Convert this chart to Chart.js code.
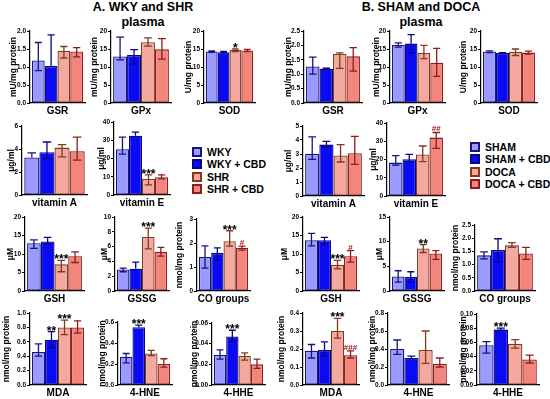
<!DOCTYPE html>
<html>
<head>
<meta charset="utf-8">
<script src="https://cdn.jsdelivr.net/npm/chart.js@4.4.0/dist/chart.umd.min.js"></script>
<style>
body { margin:0; background:#fff; width:550px; height:399px; position:relative; overflow:hidden;
       font-family:'Liberation Sans', Arial, sans-serif; color:#000; }
canvas { position:absolute; }
.title { position:absolute; width:200px; font-weight:bold; font-size:12.5px; line-height:15px; text-align:center; }
.leg { position:absolute; font-weight:bold; font-size:10.5px; white-space:nowrap; }
.leg div { height:12.3px; line-height:12.3px; }
.leg span { display:inline-block; width:6px; height:6px; border:2px solid; margin-right:5px; vertical-align:-1px; }
</style>
</head>
<body>
<div class="title" style="left:43px;top:0px">A. WKY and SHR<br>plasma</div>
<div class="title" style="left:321px;top:0px">B. SHAM and DOCA<br>plasma</div>
<div class="leg" id="legA" style="left:192px;top:146px"></div>
<div class="leg" id="legB" style="left:470px;top:141px"></div>
<script>
// groups and markers
var groupsA = ['WKY', 'WKY + CBD', 'SHR', 'SHR + CBD'];
var groupsB = ['SHAM', 'SHAM + CBD', 'DOCA', 'DOCA + CBD'];
var markers = ['GSR', 'GPx', 'SOD', 'vitamin A', 'vitamin E', 'GSH', 'GSSG', 'CO groups', 'MDA', '4-HNE', '4-HHE'];
var units = ['mU/mg protein', 'mU/mg protein', 'U/mg protein', 'μg/ml', 'μg/ml', 'μM', 'μM',
             'nmol/mg protein', 'nmol/mg protein', 'nmol/mg protein', 'pmol/mg protein'];

// y axis ticks (max, step)
var aYMax  = [2, 20, 20, 6, 40, 20, 10, 3, 1, 0.6, 0.06];
var aYStep = [0.5, 5, 5, 2, 10, 5, 2, 1, 0.2, 0.2, 0.02];
var bYMax  = [2.5, 20, 20, 5, 40, 20, 15, 2.5, 0.4, 0.8, 0.10];
var bYStep = [0.5, 5, 5, 1, 10, 5, 5, 0.5, 0.1, 0.2, 0.02];

// A. WKY and SHR plasma: means, error bar [low, high], significance marks
var aGSR = [1.18, 1.03, 1.45, 1.43];
var aGSRErr = [[0.90, 1.68], [1.03, 1.89], [1.25, 1.57], [1.28, 1.54]];
var aGPx = [12.9, 13.3, 16.9, 14.9];
var aGPxErr = [[12.0, 18.3], [10.8, 14.8], [15.8, 18.1], [12.2, 17.9]];
var aSOD = [14.3, 14.1, 14.7, 14.6];
var aSODErr = [[14.1, 14.5], [13.9, 14.3], [14.3, 15.0], [14.3, 14.9]];
var aVitA = [3.26, 3.72, 4.12, 3.80];
var aVitAErr = [[3.26, 3.66], [3.17, 4.61], [3.31, 4.38], [3.03, 5.04]];
var aVitE = [25.1, 32.5, 8.8, 9.7];
var aVitEErr = [[22.4, 31.7], [32.5, 34.5], [5.5, 11.0], [8.8, 11.0]];
var aGSH = [12.9, 13.4, 7.2, 9.4];
var aGSHErr = [[11.5, 13.8], [12.8, 14.5], [5.2, 8.3], [7.7, 10.6]];
var aGSSG = [2.9, 3.0, 7.3, 5.3];
var aGSSGErr = [[2.6, 3.1], [3.0, 3.9], [5.7, 8.5], [4.7, 5.9]];
var aCO = [1.42, 1.59, 2.07, 1.80];
var aCOErr = [[0.95, 1.88], [1.28, 1.80], [1.87, 2.51], [1.70, 1.87]];
var aMDA = [0.46, 0.63, 0.80, 0.80];
var aMDAErr = [[0.40, 0.57], [0.52, 0.74], [0.70, 0.90], [0.72, 0.89]];
var aHNE = [0.27, 0.55, 0.30, 0.20];
var aHNEErr = [[0.21, 0.30], [0.55, 0.57], [0.28, 0.33], [0.17, 0.25]];
var aHHE = [0.029, 0.047, 0.028, 0.020];
var aHHEErr = [[0.025, 0.034], [0.042, 0.053], [0.024, 0.031], [0.016, 0.025]];
var aSig = [[], [], ['', '', '*'], [], ['', '', '***'], ['', '', '***'], ['', '', '***'],
            ['', '', '***', '#'], ['', '**', '***'], ['', '***'], ['', '***']];

// B. SHAM and DOCA plasma
var bGSR = [1.27, 1.19, 1.70, 1.62];
var bGSRErr = [[1.00, 1.59], [1.17, 1.21], [1.20, 1.74], [1.11, 1.92]];
var bGPx = [16.1, 16.5, 13.9, 11.2];
var bGPxErr = [[15.5, 16.7], [14.0, 19.0], [12.3, 16.0], [7.4, 15.2]];
var bSOD = [14.3, 13.9, 14.2, 14.0];
var bSODErr = [[14.0, 14.5], [13.7, 14.0], [13.2, 15.0], [13.6, 14.4]];
var bVitA = [3.02, 3.67, 2.90, 3.05];
var bVitAErr = [[2.62, 4.22], [3.50, 3.90], [2.43, 3.67], [2.26, 4.26]];
var bVitE = [18.3, 20.1, 22.8, 32.0];
var bVitEErr = [[16.9, 22.1], [18.8, 22.8], [18.8, 27.4], [26.1, 34.8]];
var bGSH = [13.7, 13.7, 7.1, 9.4];
var bGSHErr = [[12.2, 15.6], [12.6, 14.5], [6.0, 8.3], [7.8, 10.9]];
var bGSSG = [2.95, 2.85, 8.6, 7.6];
var bGSSGErr = [[1.8, 4.1], [1.8, 3.9], [7.8, 9.4], [6.4, 8.2]];
var bCO = [1.35, 1.55, 1.73, 1.42];
var bCOErr = [[1.22, 1.48], [1.10, 1.98], [1.65, 1.83], [1.20, 1.65]];
var bMDA = [0.19, 0.195, 0.30, 0.165];
var bMDAErr = [[0.15, 0.225], [0.16, 0.24], [0.26, 0.37], [0.15, 0.19]];
var bHNE = [0.40, 0.30, 0.39, 0.235];
var bHNEErr = [[0.34, 0.50], [0.29, 0.32], [0.24, 0.60], [0.20, 0.30]];
var bHHE = [0.056, 0.078, 0.058, 0.036];
var bHHEErr = [[0.045, 0.061], [0.077, 0.080], [0.052, 0.064], [0.031, 0.042]];
var bSig = [[], [], [], [], ['', '', '', '##'], ['', '', '***', '#'], ['', '', '**'],
            [], ['', '', '***', '###'], [], ['', '***']];

var aMeans = [aGSR, aGPx, aSOD, aVitA, aVitE, aGSH, aGSSG, aCO, aMDA, aHNE, aHHE];
var aErrs = [aGSRErr, aGPxErr, aSODErr, aVitAErr, aVitEErr, aGSHErr, aGSSGErr, aCOErr, aMDAErr, aHNEErr, aHHEErr];
var bMeans = [bGSR, bGPx, bSOD, bVitA, bVitE, bGSH, bGSSG, bCO, bMDA, bHNE, bHHE];
var bErrs = [bGSRErr, bGPxErr, bSODErr, bVitAErr, bVitEErr, bGSHErr, bGSSGErr, bCOErr, bMDAErr, bHNEErr, bHHEErr];

// styles
var fills = ['#9a9aff', '#0a0af5', '#f5a89f', '#f2857c'];
var borders = ['#16167a', '#08087e', '#7c3c1e', '#8e1c1c'];
var hashColor = '#a01010';

// layout: [canvas left, y axis x, plot top, plot right, plot bottom]
var aLayout = [[9, 30, 31, 85, 103], [90, 111, 31, 171, 103], [184, 204, 31, 255, 103],
               [7, 22, 126, 87, 195], [97, 114, 122, 170, 195],
               [6, 25, 217, 84, 291], [100, 115, 217, 169, 291], [175, 197, 219, 250, 291],
               [2, 30, 313, 86, 385], [98, 118, 322, 172, 385], [190, 212, 323, 265, 385]];
var bLayout = [[284, 304, 31, 362, 103], [372, 390, 31, 445, 103], [459, 481, 31, 537, 103],
               [284, 303, 126, 364, 196], [369, 387, 123, 445, 196],
               [280, 303, 217, 359, 291], [375, 390, 217, 444, 291], [451, 475, 225, 535, 291],
               [277, 303, 313, 359, 385], [368, 388, 313, 449, 385], [459, 477, 314, 539, 385]];

var FONT = "'Liberation Sans', Arial, sans-serif";
var PT = 8, PR = 3, XH = 15;

var errorBars = {
  id: 'errorBars',
  afterDatasetsDraw: function(chart) {
    var ctx = chart.ctx;
    var y = chart.scales.y;
    chart.data.datasets.forEach(function(ds, i) {
      var bar = chart.getDatasetMeta(i).data[0];
      var lo = ds.err[0], hi = ds.err[1];
      var yLo = y.getPixelForValue(lo), yHi = y.getPixelForValue(hi);
      var half = bar.width * 0.28;
      ctx.save();
      ctx.strokeStyle = ds.borderColor;
      ctx.lineWidth = 1.3;
      ctx.beginPath();
      ctx.moveTo(bar.x, yLo); ctx.lineTo(bar.x, yHi);
      ctx.moveTo(bar.x - half, yHi); ctx.lineTo(bar.x + half, yHi);
      if (lo < ds.data[0]) { ctx.moveTo(bar.x - half, yLo); ctx.lineTo(bar.x + half, yLo); }
      ctx.stroke();
      if (ds.sig) {
        var top = Math.min(yHi, bar.y);
        ctx.textAlign = 'center';
        ctx.textBaseline = 'alphabetic';
        if (ds.sig.charAt(0) === '#') {
          ctx.fillStyle = hashColor;
          ctx.font = 'bold 8px ' + FONT;
          ctx.fillText(ds.sig, bar.x, top - 1);
        } else {
          ctx.fillStyle = '#000';
          ctx.font = 'bold 12px ' + FONT;
          ctx.fillText(ds.sig, bar.x, top + 3);
        }
      }
      ctx.restore();
    });
  }
};

function makePanel(idx, means, errs, sigs, yMax, yStep, lay, groups) {
  var left = lay[0], axisX = lay[1], top = lay[2] - PT;
  var w = lay[3] + PR - left, h = lay[4] + XH - top;
  var yw = axisX - left;
  var dec = Math.max(0, -Math.floor(Math.log10(yStep) + 1e-9));
  var cv = document.createElement('canvas');
  cv.width = w; cv.height = h;
  cv.style.left = left + 'px';
  cv.style.top = top + 'px';
  document.body.appendChild(cv);

  var datasets = groups.map(function(g, i) {
    return {
      label: g,
      data: [means[i]],
      err: errs[i],
      sig: sigs[i] || '',
      backgroundColor: fills[i],
      borderColor: borders[i],
      borderWidth: 1.3,
      borderSkipped: false,
      barPercentage: 1,
      categoryPercentage: 0.93
    };
  });

  new Chart(cv, {
    type: 'bar',
    data: { labels: [markers[idx]], datasets: datasets },
    options: {
      responsive: false,
      animation: false,
      layout: { padding: { top: PT, right: PR, left: 0, bottom: 0 } },
      plugins: { legend: { display: false }, tooltip: { enabled: false } },
      scales: {
        x: {
          grid: { display: false, drawTicks: false },
          border: { display: true, color: '#000', width: 1.2 },
          ticks: { color: '#000', padding: 2, maxRotation: 0, minRotation: 0, autoSkip: false,
                   font: { family: FONT, size: 10, weight: 'bold' } },
          afterFit: function(s) { s.height = XH; }
        },
        y: {
          min: 0, max: yMax,
          grid: { display: true, drawOnChartArea: false, drawTicks: true, tickLength: 3, color: '#000' },
          border: { display: true, color: '#000', width: 1.2 },
          ticks: { stepSize: yStep, color: '#000', padding: 1,
                   font: { family: FONT, size: 6.5, weight: 'bold' },
                   callback: function(v) { return Number(v).toFixed(dec); } },
          title: { display: true, text: units[idx], color: '#000', padding: 0,
                   font: { family: FONT, size: 8.5, weight: 'bold' } },
          afterFit: function(s) { s.width = yw; }
        }
      }
    },
    plugins: [errorBars]
  });
}

for (var k = 0; k < markers.length; k++) {
  makePanel(k, aMeans[k], aErrs[k], aSig[k], aYMax[k], aYStep[k], aLayout[k], groupsA);
  makePanel(k, bMeans[k], bErrs[k], bSig[k], bYMax[k], bYStep[k], bLayout[k], groupsB);
}

function fillLegend(id, groups) {
  var el = document.getElementById(id);
  groups.forEach(function(g, i) {
    var row = document.createElement('div');
    var box = document.createElement('span');
    box.style.background = fills[i];
    box.style.borderColor = borders[i];
    row.appendChild(box);
    row.appendChild(document.createTextNode(g));
    el.appendChild(row);
  });
}
fillLegend('legA', groupsA);
fillLegend('legB', groupsB);
</script>
</body>
</html>
